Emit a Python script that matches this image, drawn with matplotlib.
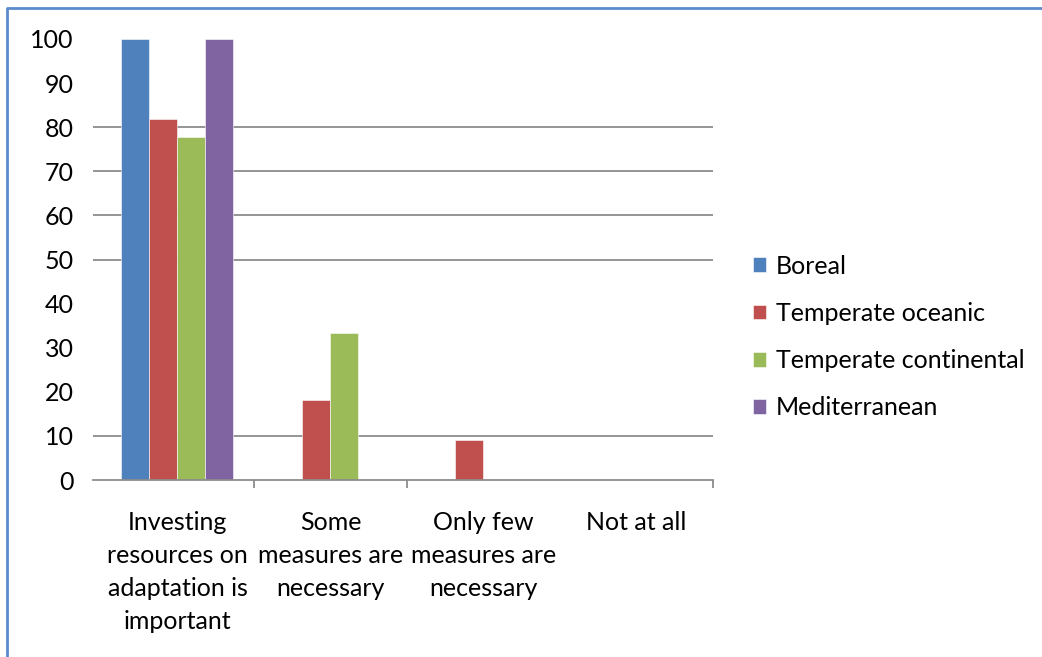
"""Clustered bar chart: views on investing in adaptation, by climate zone."""
import matplotlib

matplotlib.use("Agg")
import matplotlib.pyplot as plt
from matplotlib.lines import Line2D
import numpy as np

plt.rcParams["font.family"] = ["Lato", "DejaVu Sans"]

categories = [
    "Investing\nresources on\nadaptation is\nimportant",
    "Some\nmeasures are\nnecessary",
    "Only few\nmeasures are\nnecessary",
    "Not at all",
]
series_names = ["Boreal", "Temperate oceanic", "Temperate continental", "Mediterranean"]
boreal = [100, 0, 0, 0]
temperate_oceanic = [81.8, 18.2, 9.1, 0]
temperate_continental = [77.8, 33.3, 0, 0]
mediterranean = [100, 0, 0, 0]
y_ticks = list(range(0, 101, 10))
grid_values = [10, 50, 60, 70, 80]

COLORS = ["#4F81BD", "#C0504D", "#9BBB59", "#8064A2"]
GRID_COLOR = "#8C8C8C"
FONT_SIZE = 18

W, H = 1042, 657
fig = plt.figure(figsize=(W / 100, H / 100), dpi=100)
ax = fig.add_axes((93 / W, 1 - 480 / H, (713 - 93) / W, (480 - 39) / H))

values = [boreal, temperate_oceanic, temperate_continental, mediterranean]
x = np.arange(len(categories))
bar_w = 0.183
for i, (name, vals) in enumerate(zip(series_names, values)):
    ax.bar(x + (i - 1.5) * bar_w, vals, bar_w, color=COLORS[i], label=name,
           edgecolor="white", linewidth=0.4, zorder=3)

for g in grid_values:
    ax.axhline(g, color=GRID_COLOR, linewidth=1.3, zorder=1)

ax.set_xlim(-0.552, 3.5)
ax.set_ylim(0, 100)
ax.set_yticks(y_ticks)
ax.tick_params(axis="y", length=0, pad=14, labelsize=FONT_SIZE)

ax.set_xticks(x)
ax.set_xticklabels(categories, fontsize=FONT_SIZE, linespacing=1.54)
ax.tick_params(axis="x", which="major", length=0, pad=22)
ax.set_xticks([0.5, 1.5, 3.5], minor=True)
ax.tick_params(axis="x", which="minor", length=6, width=1.3, color=GRID_COLOR, direction="out")

for side in ("left", "right", "top"):
    ax.spines[side].set_visible(False)
ax.spines["bottom"].set_color(GRID_COLOR)
ax.spines["bottom"].set_linewidth(1.3)
ax.spines["bottom"].set_zorder(4)

fig.legend(loc="center left", bbox_to_anchor=(753 / W, 1 - 337 / H), frameon=False,
           fontsize=FONT_SIZE, handlelength=0.52, handleheight=0.52, handletextpad=0.38,
           labelspacing=0.97, borderpad=0, borderaxespad=0)

# chart frame (only top and left edges remain in the crop)
bx, by = 7 / W, 1 - 8 / H
fig.add_artist(Line2D([bx, bx, 1], [0, by, by], transform=fig.transFigure,
                      color="#5B8BCB", linewidth=2))

fig.savefig("out.png", dpi=100)
